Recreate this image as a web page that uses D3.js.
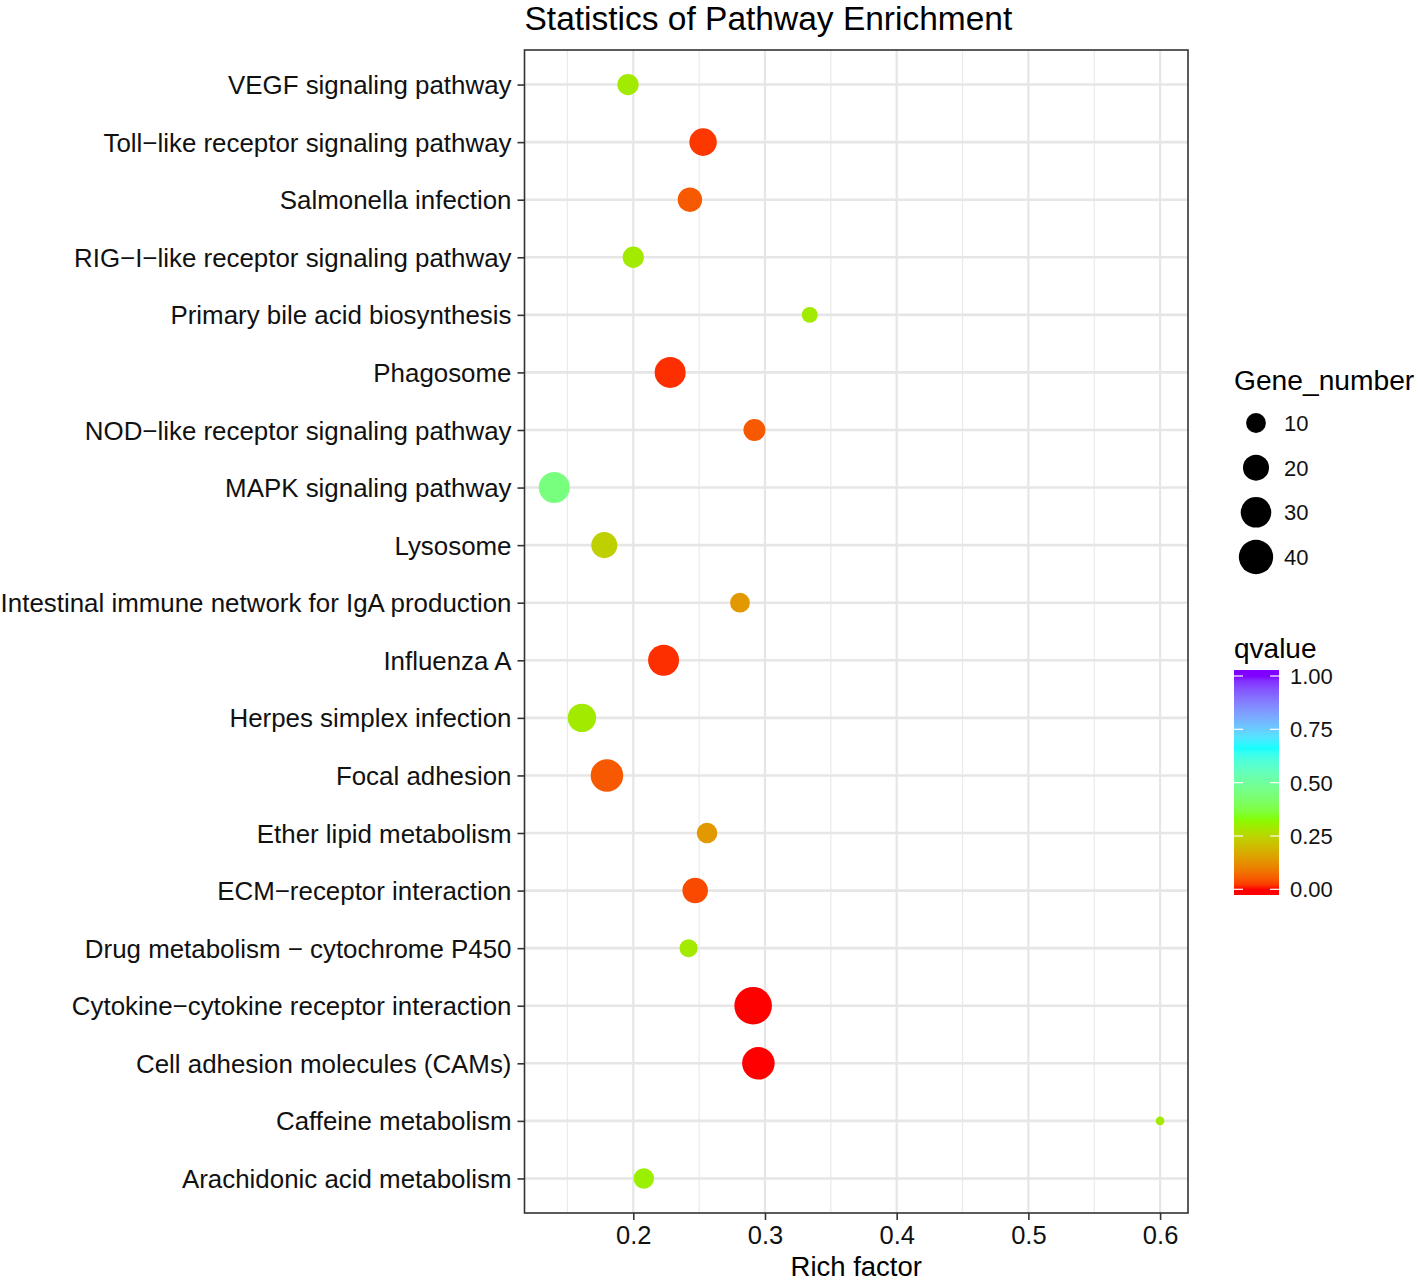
<!DOCTYPE html>
<html>
<head>
<meta charset="utf-8">
<script src="https://cdn.jsdelivr.net/npm/d3@7"></script>
<style>
  html, body { margin: 0; padding: 0; background: #fff; }
  svg { display: block; font-family: "Liberation Sans", Arial, Helvetica, sans-serif; }
</style>
</head>
<body>
<svg id="chart" width="1418" height="1282"></svg>
<script>
// ---- data ----
const pathways = [
  "VEGF signaling pathway",
  "Toll\u2212like receptor signaling pathway",
  "Salmonella infection",
  "RIG\u2212I\u2212like receptor signaling pathway",
  "Primary bile acid biosynthesis",
  "Phagosome",
  "NOD\u2212like receptor signaling pathway",
  "MAPK signaling pathway",
  "Lysosome",
  "Intestinal immune network for IgA production",
  "Influenza A",
  "Herpes simplex infection",
  "Focal adhesion",
  "Ether lipid metabolism",
  "ECM\u2212receptor interaction",
  "Drug metabolism \u2212 cytochrome P450",
  "Cytokine\u2212cytokine receptor interaction",
  "Cell adhesion molecules (CAMs)",
  "Caffeine metabolism",
  "Arachidonic acid metabolism"
];
const richFactor = [0.196, 0.253, 0.243, 0.200, 0.334, 0.228, 0.292, 0.140, 0.178, 0.281,
                    0.223, 0.161, 0.180, 0.256, 0.247, 0.242, 0.291, 0.295, 0.600, 0.208];
const geneNumber = [12, 23, 17, 12, 6, 31, 13, 31, 20, 10,
                    31, 25, 35, 11, 19, 8, 50, 35, 3, 11];
const qvalue = [0.29, 0.02, 0.05, 0.29, 0.29, 0.015, 0.05, 0.45, 0.24, 0.14,
                0.015, 0.29, 0.05, 0.14, 0.035, 0.29, 0.0, 0.0, 0.29, 0.30];

const xTicks = [0.2, 0.3, 0.4, 0.5, 0.6];
const xMinorTicks = [0.15, 0.25, 0.35, 0.45, 0.55];
const sizeLegendValues = [10, 20, 30, 40];
const colorLegendTicks = [0, 0.25, 0.5, 0.75, 1.0];
const colorStops = ["#FF0000", "#80FF00", "#00FFFF", "#8000FF"];
const xDomain = [0.1174, 0.6212];

// ---- layout ----
const svg = d3.select("#chart");
const panel = { left: 524.5, right: 1188, top: 50, bottom: 1213 };
const fontFamily = '"Liberation Sans", Arial, Helvetica, sans-serif';

const x = d3.scaleLinear().domain(xDomain).range([panel.left, panel.right]);
const y = d3.scalePoint().domain(pathways).range([panel.top, panel.bottom]).padding(0.6);
const gMin = d3.min(geneNumber), gMax = d3.max(geneNumber);
const rBase = d3.scaleSqrt().domain([0, gMax - gMin]).range([4.3, 18.8]);
const r = v => rBase(Math.max(0, v - gMin));
const color = d3.scaleLinear()
  .domain(d3.range(colorStops.length).map(i => i / (colorStops.length - 1)))
  .range(colorStops)
  .interpolate(d3.interpolateLab);

// panel background
svg.append("rect")
  .attr("x", panel.left).attr("y", panel.top)
  .attr("width", panel.right - panel.left).attr("height", panel.bottom - panel.top)
  .attr("fill", "#fff");

// grid
const grid = svg.append("g");
grid.selectAll(".vminor").data(xMinorTicks).join("line")
  .attr("x1", d => x(d)).attr("x2", d => x(d))
  .attr("y1", panel.top).attr("y2", panel.bottom)
  .attr("stroke", "#EBEBEB").attr("stroke-width", 1.3);
grid.selectAll(".vmajor").data(xTicks).join("line")
  .attr("x1", d => x(d)).attr("x2", d => x(d))
  .attr("y1", panel.top).attr("y2", panel.bottom)
  .attr("stroke", "#E6E6E6").attr("stroke-width", 2.2);
grid.selectAll(".hmajor").data(pathways).join("line")
  .attr("x1", panel.left).attr("x2", panel.right)
  .attr("y1", d => y(d)).attr("y2", d => y(d))
  .attr("stroke", "#E6E6E6").attr("stroke-width", 2.6);

// points
svg.append("g").selectAll("circle").data(pathways).join("circle")
  .attr("cx", (d, i) => x(richFactor[i]))
  .attr("cy", d => y(d))
  .attr("r", (d, i) => r(geneNumber[i]))
  .attr("fill", (d, i) => color(qvalue[i]));

// border
svg.append("rect")
  .attr("x", panel.left).attr("y", panel.top)
  .attr("width", panel.right - panel.left).attr("height", panel.bottom - panel.top)
  .attr("fill", "none").attr("stroke", "#333").attr("stroke-width", 1.6);

// y axis
const yAxis = svg.append("g").attr("transform", `translate(${panel.left},0)`)
  .call(d3.axisLeft(y).tickSize(7).tickPadding(6));
yAxis.select(".domain").remove();
yAxis.selectAll(".tick line").attr("stroke", "#333").attr("stroke-width", 1.6);
yAxis.selectAll(".tick text").attr("fill", "#111")
  .style("font-size", "25.9px").style("font-family", fontFamily).attr("dy", "0.35em");

// x axis
const xAxis = svg.append("g").attr("transform", `translate(0,${panel.bottom})`)
  .call(d3.axisBottom(x).tickValues(xTicks).tickFormat(d3.format(".1f")).tickSize(7).tickPadding(6));
xAxis.select(".domain").remove();
xAxis.selectAll(".tick line").attr("stroke", "#333").attr("stroke-width", 1.6);
xAxis.selectAll(".tick text").attr("fill", "#111")
  .style("font-size", "25.5px").style("font-family", fontFamily);

// axis title
svg.append("text")
  .attr("x", (panel.left + panel.right) / 2).attr("y", 1276)
  .attr("text-anchor", "middle")
  .style("font-size", "27.5px").attr("fill", "#000")
  .text("Rich factor");

// title
svg.append("text")
  .attr("x", panel.left).attr("y", 30)
  .style("font-size", "33.5px").attr("fill", "#000")
  .text("Statistics of Pathway Enrichment");

// size legend
const sl = svg.append("g");
sl.append("text").attr("x", 1234).attr("y", 390)
  .style("font-size", "28.2px").attr("fill", "#000").text("Gene_number");
const slY = d3.scalePoint().domain(sizeLegendValues).range([423, 557]);
sl.selectAll("circle").data(sizeLegendValues).join("circle")
  .attr("cx", 1256).attr("cy", d => slY(d)).attr("r", d => r(d)).attr("fill", "#000");
sl.selectAll(".lbl").data(sizeLegendValues).join("text")
  .attr("x", 1284).attr("y", d => slY(d)).attr("dy", "0.36em")
  .style("font-size", "22px").attr("fill", "#111").text(d => d);

// color legend
const cl = svg.append("g");
cl.append("text").attr("x", 1234).attr("y", 658)
  .style("font-size", "28px").attr("fill", "#000").text("qvalue");
const barX = 1234, barW = 45, barTop = 670, barBottom = 895;
const cy = d3.scaleLinear().domain([0, 1]).range([889.3, 676]);
const defs = svg.append("defs");
const grad = defs.append("linearGradient").attr("id", "qgrad")
  .attr("x1", 0).attr("y1", 1).attr("x2", 0).attr("y2", 0);
const gStops = d3.range(0, 1.0001, 0.02);
grad.selectAll("stop").data(gStops).join("stop")
  .attr("offset", d => (barBottom - cy(d)) / (barBottom - barTop))
  .attr("stop-color", d => color(d));
cl.append("rect").attr("x", barX).attr("y", barTop).attr("width", barW).attr("height", barBottom - barTop)
  .attr("fill", "url(#qgrad)");
cl.selectAll(".tl").data(colorLegendTicks).join("line")
  .attr("x1", barX).attr("x2", barX + 9).attr("y1", d => cy(d)).attr("y2", d => cy(d))
  .attr("stroke", "#fff").attr("stroke-width", 1.2);
cl.selectAll(".tr").data(colorLegendTicks).join("line")
  .attr("x1", barX + barW - 9).attr("x2", barX + barW).attr("y1", d => cy(d)).attr("y2", d => cy(d))
  .attr("stroke", "#fff").attr("stroke-width", 1.2);
cl.selectAll(".cl").data(colorLegendTicks).join("text")
  .attr("x", 1290).attr("y", d => cy(d)).attr("dy", "0.36em")
  .style("font-size", "22px").attr("fill", "#111").text(d => d3.format(".2f")(d));
</script>
</body>
</html>
